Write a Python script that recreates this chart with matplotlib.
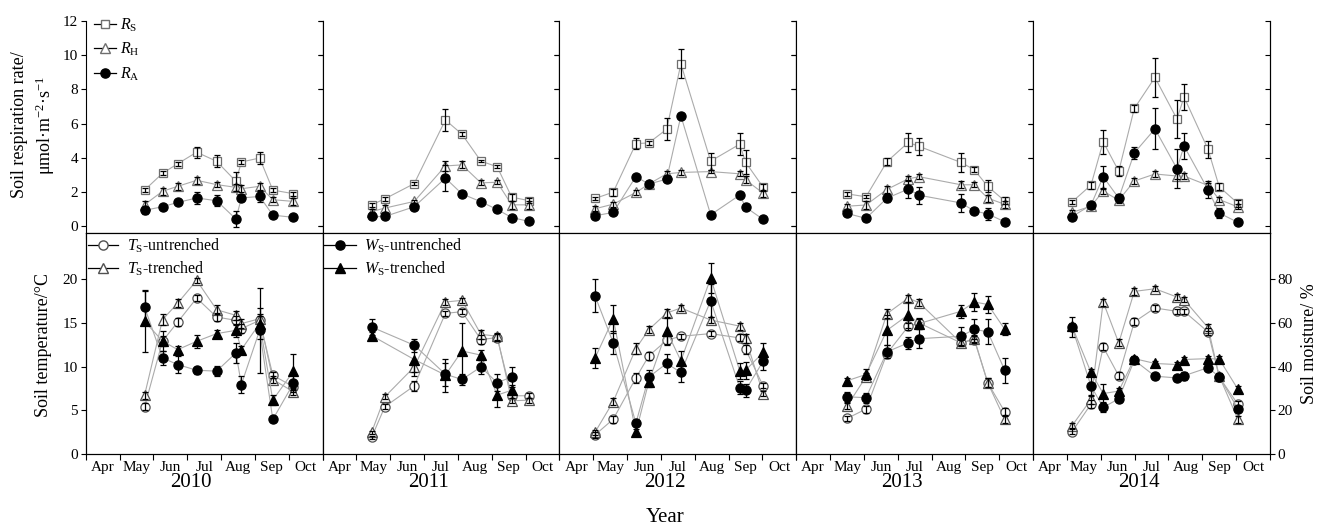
import matplotlib
matplotlib.use('Agg')
import matplotlib.pyplot as plt
import numpy as np
from matplotlib.lines import Line2D
from matplotlib.transforms import blended_transform_factory

plt.rcParams['font.family'] = ['Liberation Serif', 'DejaVu Serif']
plt.rcParams['mathtext.fontset'] = 'custom'
plt.rcParams['mathtext.rm'] = 'Liberation Serif'
plt.rcParams['mathtext.it'] = 'Liberation Serif:italic'
plt.rcParams['axes.linewidth'] = 0.8

nan = np.nan
years = ['2010', '2011', '2012', '2013', '2014']
months = ['Apr', 'May', 'Jun', 'Jul', 'Aug', 'Sep', 'Oct']

# sampling dates (months after 1 April)
x2010 = [1.74, 2.27, 2.72, 3.28, 3.87, 4.44, 4.60, 5.14, 5.53, 6.14]
x2011 = [1.45, 1.84, 2.71, 3.63, 4.12, 4.68, 5.16, 5.59, 6.11]
x2012 = [1.05, 1.59, 2.26, 2.64, 3.17, 3.59, 4.47, 5.33, 5.50, 6.02]
x2013 = [1.50, 2.06, 2.68, 3.31, 3.63, 4.87, 5.26, 5.66, 6.16]
x2014 = [1.15, 1.71, 2.07, 2.53, 2.99, 3.60, 4.25, 4.46, 5.17, 5.50, 6.05]

# soil respiration (umol m-2 s-1)
rs2010 = [2.12, 3.10, 3.66, 4.33, 3.80, 2.63, 3.76, 3.99, 2.12, 1.91]
rs2011 = [1.26, 1.61, 2.50, 6.21, 5.38, 3.81, 3.48, 1.71, 1.50]
rs2012 = [1.63, 2.00, 4.83, 4.87, 5.67, 9.48, 3.81, 4.80, 3.75, 2.29]
rs2013 = [1.90, 1.73, 3.78, 4.90, 4.67, 3.73, 3.31, 2.33, 1.49]
rs2014 = [1.43, 2.41, 4.94, 3.22, 6.88, 8.69, 6.27, 7.55, 4.49, 2.31, 1.35]
rs_err2010 = [0.12, 0.12, 0.12, 0.32, 0.35, 0.55, 0.10, 0.35, 0.12, 0.12]
rs_err2011 = [0.12, 0.12, 0.08, 0.65, 0.10, 0.08, 0.08, 0.20, 0.15]
rs_err2012 = [0.10, 0.20, 0.30, 0.10, 0.65, 0.85, 0.50, 0.65, 0.70, 0.20]
rs_err2013 = [0.10, 0.10, 0.20, 0.55, 0.50, 0.55, 0.15, 0.35, 0.20]
rs_err2014 = [0.10, 0.20, 0.70, 0.30, 0.20, 1.15, 1.10, 0.75, 0.50, 0.20, 0.20]

rh2010 = [1.27, 2.05, 2.34, 2.69, 2.44, 2.28, 2.20, 2.34, 1.56, 1.46]
rh2011 = [0.87, 1.07, 1.46, 3.53, 3.59, 2.54, 2.58, 1.26, 1.26]
rh2012 = [1.03, 1.30, 1.98, 2.47, 3.07, 3.15, 3.20, 3.07, 2.72, 1.94]
rh2013 = [1.18, 1.25, 2.16, 2.78, 2.90, 2.43, 2.43, 1.65, 1.29]
rh2014 = [0.82, 1.18, 2.06, 1.53, 2.65, 3.06, 2.94, 2.94, 2.39, 1.57, 1.14]
rh_err2010 = [0.20, 0.20, 0.20, 0.20, 0.15, 0.20, 0.20, 0.20, 0.15, 0.20]
rh_err2011 = [0.15, 0.20, 0.10, 0.30, 0.20, 0.15, 0.12, 0.25, 0.25]
rh_err2012 = [0.15, 0.15, 0.15, 0.15, 0.15, 0.15, 0.10, 0.15, 0.20, 0.20]
rh_err2013 = [0.15, 0.25, 0.20, 0.15, 0.15, 0.20, 0.15, 0.20, 0.20]
rh_err2014 = [0.15, 0.15, 0.15, 0.15, 0.15, 0.15, 0.15, 0.15, 0.15, 0.15, 0.15]

ra2010 = [0.94, 1.15, 1.40, 1.66, 1.50, 0.43, 1.66, 1.75, 0.66, 0.53]
ra2011 = [0.58, 0.58, 1.15, 2.82, 1.90, 1.44, 0.99, 0.52, 0.29]
ra2012 = [0.62, 0.82, 2.91, 2.47, 2.76, 6.45, 0.68, 1.83, 1.13, 0.41]
ra2013 = [0.76, 0.47, 1.65, 2.18, 1.82, 1.37, 0.90, 0.73, 0.27]
ra2014 = [0.57, 1.25, 2.90, 1.65, 4.29, 5.69, 3.37, 4.69, 2.14, 0.78, 0.24]
ra_err2010 = [0.22, 0.10, 0.10, 0.35, 0.32, 0.45, 0.15, 0.30, 0.10, 0.10]
ra_err2011 = [0.08, 0.08, 0.10, 0.78, 0.08, 0.08, 0.08, 0.08, 0.08]
ra_err2012 = [0.10, 0.10, 0.10, 0.10, 0.10, 0.10, 0.10, 0.10, 0.10, 0.10]
ra_err2013 = [0.10, 0.08, 0.25, 0.55, 0.50, 0.55, 0.08, 0.35, 0.08]
ra_err2014 = [0.08, 0.10, 0.65, 0.25, 0.35, 1.20, 1.15, 0.75, 0.50, 0.30, 0.08]

# soil temperature (degC)
tsu2010 = [5.41, 12.9, 15.07, 17.8, 15.64, 15.26, 14.32, 15.26, 9.01, 7.69]
tsu2011 = [1.93, 5.42, 7.80, 16.06, 16.25, 13.07, 13.30, 6.67, 6.67]
tsu2012 = [2.2, 4.0, 8.7, 11.2, 13.0, 13.45, 13.75, 13.26, 11.97, 7.8]
tsu2013 = [4.09, 5.15, 11.48, 14.58, 14.96, 12.69, 13.07, 8.14, 4.85]
tsu2014 = [2.58, 5.72, 12.23, 8.94, 15.08, 16.67, 16.29, 16.29, 13.94, 8.8, 5.7]
tst2010 = [6.74, 15.34, 17.23, 19.81, 16.47, 15.83, 14.89, 15.45, 8.52, 7.12]
tst2011 = [2.5, 6.55, 9.96, 17.35, 17.54, 13.67, 13.45, 6.1, 6.17]
tst2012 = [2.5, 6.0, 12.05, 14.2, 16.1, 16.67, 15.3, 14.6, 13.2, 6.9]
tst2013 = [5.49, 8.83, 16.02, 17.8, 17.27, 12.69, 13.18, 8.14, 3.98]
tst2014 = [3.26, 6.25, 17.35, 12.69, 18.56, 18.86, 17.92, 17.61, 14.43, 8.9, 4.0]
ts_err2010 = [0.4, 0.6, 0.5, 0.3, 0.5, 0.5, 0.5, 0.5, 0.35, 0.35]
ts_err2011 = [0.2, 0.3, 0.6, 0.3, 0.3, 0.5, 0.4, 0.3, 0.3]
ts_err2012 = [0.3, 0.4, 0.6, 0.4, 0.5, 0.3, 0.3, 0.4, 0.5, 0.3]
ts_err2013 = [0.3, 0.4, 0.5, 0.4, 0.4, 0.4, 0.4, 0.5, 0.4]
ts_err2014 = [0.3, 0.5, 0.4, 0.4, 0.4, 0.3, 0.3, 0.3, 0.4, 0.4, 0.4]

# soil moisture (%)
wsu2010 = [67.1, 43.9, 40.9, 38.3, 37.9, 46.2, 31.8, 56.5, 15.9, 32.3]
wsu2011 = [58.0, nan, 49.7, 36.5, 34.1, 39.8, 32.6, 35.3, nan]
wsu2012 = [72.3, 50.8, 14.2, 35.2, 41.4, 37.3, 70.0, 30.3, 29.2, 42.4]
wsu2013 = [26.2, 25.8, 46.7, 50.8, 52.7, 53.8, 57.0, 55.8, 38.3]
wsu2014 = [58.0, 31.1, 21.4, 25.3, 42.9, 35.6, 34.8, 35.8, 39.5, 35.3, 20.8]
wst2010 = [60.6, 51.6, 47.7, 51.5, 55.0, 56.5, 47.7, 59.6, 24.7, 37.9]
wst2011 = [54.1, nan, 43.2, 36.1, 47.1, 45.2, 27.0, 29.2, nan]
wst2012 = [43.8, 61.8, 10.0, 33.0, 56.2, 42.6, 80.3, 38.0, 38.3, 46.4]
wst2013 = [33.5, 36.4, 56.5, 63.6, 59.6, 65.2, 69.4, 68.3, 57.0]
wst2014 = [58.3, 37.3, 27.7, 28.8, 43.6, 41.4, 40.9, 43.2, 43.6, 43.4, 29.7]
wsu_err2010 = [8.0, 3.0, 3.8, 1.5, 2.3, 4.5, 3.8, 19.5, 1.2, 3.8]
wsu_err2011 = [3.8, nan, 3.0, 5.3, 2.3, 3.0, 3.8, 4.5, nan]
wsu_err2012 = [7.6, 5.3, 1.5, 3.0, 4.2, 4.2, 7.5, 3.0, 3.0, 3.8]
wsu_err2013 = [2.3, 2.3, 3.0, 2.7, 4.2, 4.2, 4.5, 5.7, 5.7]
wsu_err2014 = [4.5, 4.5, 2.3, 1.5, 1.2, 1.2, 1.2, 1.8, 1.2, 1.8, 1.2]
wst_err2010 = [14.0, 4.5, 1.5, 3.0, 1.5, 3.0, 1.8, 7.0, 2.3, 7.6]
wst_err2011 = [1.8, nan, 7.5, 7.5, 12.8, 2.3, 5.3, 2.3, nan]
wst_err2012 = [4.5, 6.4, 1.5, 2.3, 6.0, 4.5, 6.8, 3.8, 3.8, 4.5]
wst_err2013 = [1.5, 2.3, 6.8, 6.0, 2.3, 3.0, 4.2, 3.8, 2.7]
wst_err2014 = [1.5, 1.8, 4.5, 1.2, 1.2, 1.2, 1.2, 1.2, 1.2, 1.2, 1.2]

X = [x2010, x2011, x2012, x2013, x2014]
RS = [rs2010, rs2011, rs2012, rs2013, rs2014]
RSE = [rs_err2010, rs_err2011, rs_err2012, rs_err2013, rs_err2014]
RH = [rh2010, rh2011, rh2012, rh2013, rh2014]
RHE = [rh_err2010, rh_err2011, rh_err2012, rh_err2013, rh_err2014]
RA = [ra2010, ra2011, ra2012, ra2013, ra2014]
RAE = [ra_err2010, ra_err2011, ra_err2012, ra_err2013, ra_err2014]
TSU = [tsu2010, tsu2011, tsu2012, tsu2013, tsu2014]
TST = [tst2010, tst2011, tst2012, tst2013, tst2014]
TSE = [ts_err2010, ts_err2011, ts_err2012, ts_err2013, ts_err2014]
WSU = [wsu2010, wsu2011, wsu2012, wsu2013, wsu2014]
WST = [wst2010, wst2011, wst2012, wst2013, wst2014]
WSUE = [wsu_err2010, wsu_err2011, wsu_err2012, wsu_err2013, wsu_err2014]
WSTE = [wst_err2010, wst_err2011, wst_err2012, wst_err2013, wst_err2014]

LINE = '#ababab'
OPEN_TOP = '#6e6e6e'
OPEN_BOT = '#505050'
MS_SQ, MS_TRI, MS_CIR = 6.0, 7.0, 6.6

FW, FH = 1330.0, 528.0
fig = plt.figure(figsize=(FW / 100, FH / 100), dpi=100)

L0 = 85.7
PW = (1270.0 - L0) / 5
T_TOP, T_BOT = 20.7, 233.3
B_TOP, B_BOT = 233.3, 454.3
TOP_YLIM = (-0.4, 12.0)
BOT_YLIM = (0.0, 25.18)


def series(ax, x, y, err, marker, mfc, mec, ms):
    x = np.asarray(x, float)
    y = np.asarray(y, float)
    err = np.asarray(err, float)
    m = ~np.isnan(y)
    ax.plot(x[m], y[m], '-', color=LINE, lw=0.8, zorder=2)
    ax.plot(x[m], y[m], ls='none', marker=marker, mfc=mfc, mec=mec,
            ms=ms, mew=0.9, zorder=3)
    ax.errorbar(x[m], y[m], yerr=err[m], fmt='none', ecolor='k',
                elinewidth=0.9, capsize=2.0, capthick=0.9, zorder=4)


for i in range(5):
    left = (L0 + i * PW) / FW
    w = PW / FW
    # ---------------- top row: respiration ----------------
    axT = fig.add_axes([left, 1 - T_BOT / FH, w, (T_BOT - T_TOP) / FH])
    axT.set_xlim(0, 7)
    axT.set_ylim(*TOP_YLIM)
    axT.spines['top'].set_visible(False)
    axT.set_xticks(range(8))
    axT.set_xticklabels([])
    axT.tick_params(axis='x', direction='out', length=4.5, width=0.8)
    axT.set_yticks(range(0, 13, 2))
    axT.tick_params(axis='y', direction='out', length=3.5, width=0.8,
                    labelsize=11, pad=2, labelleft=(i == 0))
    sec = axT.secondary_yaxis('right')
    sec.set_yticks(range(0, 13, 2))
    sec.tick_params(direction='in', length=3.5, width=0.8, labelright=False)
    series(axT, X[i], RS[i], RSE[i], 's', 'white', OPEN_TOP, MS_SQ)
    series(axT, X[i], RH[i], RHE[i], '^', 'white', OPEN_TOP, MS_TRI)
    series(axT, X[i], RA[i], RAE[i], 'o', 'black', 'black', MS_CIR)

    # ---------------- bottom row: temperature & moisture ----------------
    axB = fig.add_axes([left, 1 - B_BOT / FH, w, (B_BOT - B_TOP) / FH])
    axB.set_xlim(0, 7)
    axB.set_ylim(*BOT_YLIM)
    axB.set_xticks(range(8))
    axB.set_xticklabels([])
    axB.set_xticks(np.arange(7) + 0.5, minor=True)
    axB.set_xticklabels(months, minor=True)
    axB.tick_params(axis='x', which='major', direction='out', length=4, width=0.8)
    axB.tick_params(axis='x', which='minor', length=0, labelsize=11, pad=4.5)
    if i == 0:
        axB.set_yticks(range(0, 21, 5))
        axB.tick_params(axis='y', direction='out', length=3.5, width=0.8,
                        labelsize=11, pad=2)
    else:
        axB.set_yticks([])
    series(axB, X[i], TSU[i], TSE[i], 'o', 'white', OPEN_BOT, MS_CIR)
    series(axB, X[i], TST[i], TSE[i], '^', 'white', OPEN_BOT, MS_TRI)

    ax2 = axB.twinx()
    ax2.set_ylim(BOT_YLIM[0] * 4, BOT_YLIM[1] * 4)
    if i == 4:
        ax2.set_yticks(range(0, 81, 20))
        ax2.tick_params(axis='y', direction='out', length=3.5, width=0.8,
                        labelsize=11, pad=2)
        ax2.set_ylabel('Soil moisture/ %', fontsize=13, labelpad=6)
    else:
        ax2.set_yticks([])
    series(ax2, X[i], WSU[i], WSUE[i], 'o', 'black', 'black', MS_CIR)
    series(ax2, X[i], WST[i], WSTE[i], '^', 'black', 'black', MS_TRI)

    trans = blended_transform_factory(axB.transData, fig.transFigure)
    axB.text(3.12, 1 - 487 / FH, years[i], transform=trans, ha='center',
             va='baseline', fontsize=15)

    if i == 0:
        h = [Line2D([], [], color='k', lw=0.9, marker='s', mfc='white', mec=OPEN_TOP, ms=MS_SQ),
             Line2D([], [], color='k', lw=0.9, marker='^', mfc='white', mec=OPEN_TOP, ms=MS_TRI),
             Line2D([], [], color='k', lw=0.9, marker='o', mfc='k', mec='k', ms=MS_CIR)]
        axT.legend(h, [r'$R_{\mathrm{S}}$', r'$R_{\mathrm{H}}$', r'$R_{\mathrm{A}}$'],
                   loc='upper left', bbox_to_anchor=(0.035, 1.02), frameon=False,
                   borderpad=0, borderaxespad=0, handlelength=1.4, handletextpad=0.25,
                   labelspacing=0.45, fontsize=11.5)
        hb = [Line2D([], [], color='k', lw=0.9, marker='o', mfc='white', mec=OPEN_BOT, ms=MS_CIR),
              Line2D([], [], color='k', lw=0.9, marker='^', mfc='white', mec=OPEN_BOT, ms=MS_TRI)]
        leg = axB.legend(hb, [r'$T_{\mathrm{S}}$-untrenched', r'$T_{\mathrm{S}}$-trenched'],
                         loc='upper left', bbox_to_anchor=(0.01, 0.985), frameon=False,
                         borderpad=0, borderaxespad=0, handlelength=1.9, handletextpad=0.55,
                         labelspacing=0.3, fontsize=11.5)
        leg.set_zorder(1)
    if i == 1:
        hb = [Line2D([], [], color='k', lw=0.9, marker='o', mfc='k', mec='k', ms=MS_CIR),
              Line2D([], [], color='k', lw=0.9, marker='^', mfc='k', mec='k', ms=MS_TRI)]
        axB.legend(hb, [r'$W_{\mathrm{S}}$-untrenched', r'$W_{\mathrm{S}}$-trenched'],
                   loc='upper left', bbox_to_anchor=(0.007, 0.985), frameon=False,
                   borderpad=0, borderaxespad=0, handlelength=2.0, handletextpad=0.5,
                   labelspacing=0.3, fontsize=11.5)

fig.text(20 / FW, 1 - 125 / FH, 'Soil respiration rate/', rotation=90,
         ha='center', va='center', fontsize=13)
fig.text(45 / FW, 1 - 125 / FH, r'μmol·m$^{-2}$·s$^{-1}$', rotation=90,
         ha='center', va='center', fontsize=13)
fig.text(44 / FW, 1 - 345 / FH, 'Soil temperature/°C', rotation=90,
         ha='center', va='center', fontsize=13)
fig.text(0.5, 1 - 522 / FH, 'Year', ha='center', va='baseline', fontsize=15)

fig.savefig('out.png', dpi=100)
